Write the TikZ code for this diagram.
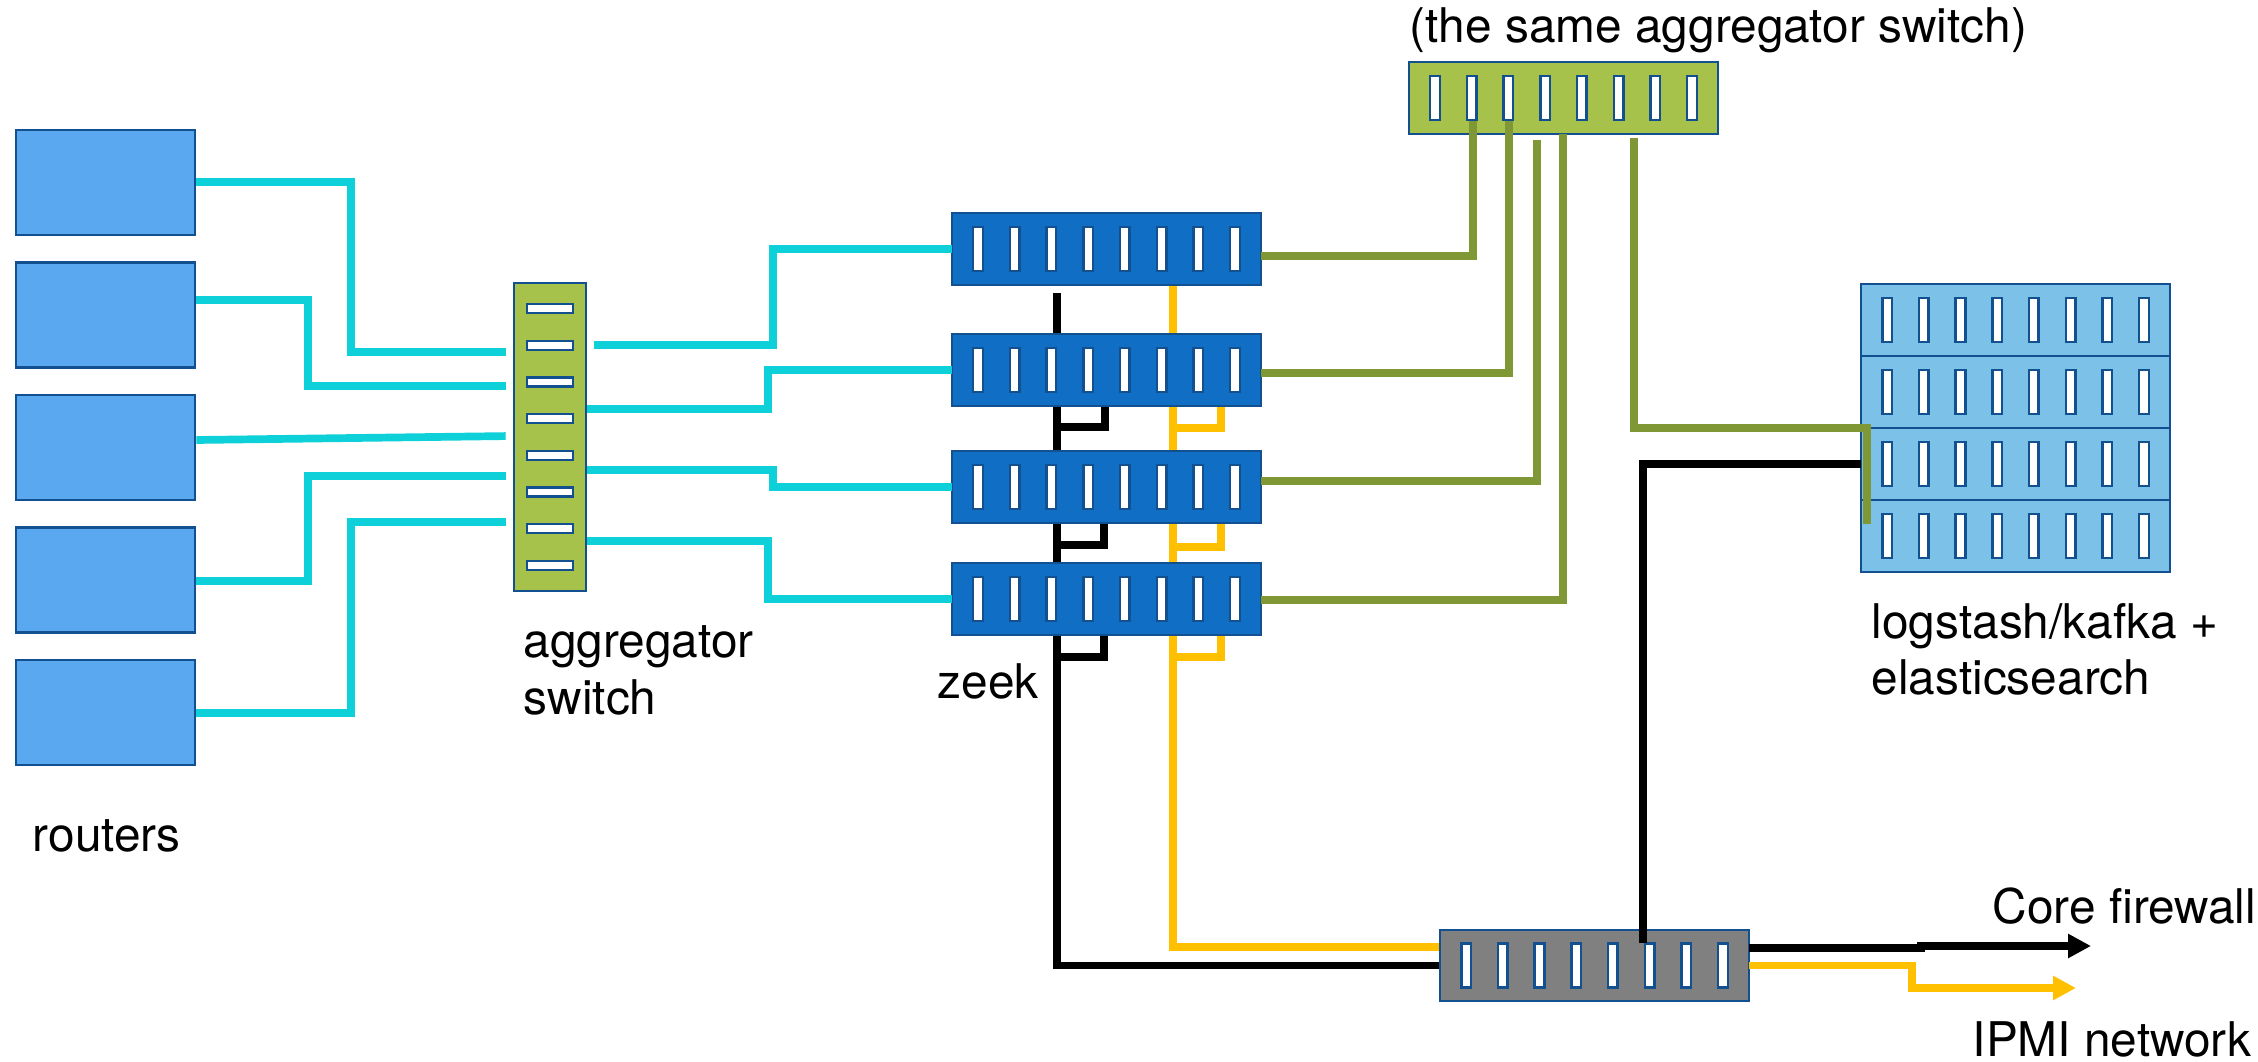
\documentclass[tikz,border=0pt]{standalone}
\usepackage{fontspec}
\setmainfont{TeX Gyre Heros}
\usetikzlibrary{arrows.meta,positioning,backgrounds}
\definecolor{edgeblue}{RGB}{18,80,143}
\definecolor{routerblue}{RGB}{90,169,240}
\definecolor{zeekblue}{RGB}{16,110,197}
\definecolor{lsblue}{RGB}{124,194,232}
\definecolor{aggreen}{RGB}{166,194,74}
\definecolor{wirecyan}{RGB}{14,208,216}
\definecolor{wireolive}{RGB}{127,151,52}
\definecolor{wireyellow}{RGB}{255,192,0}
\definecolor{exitgray}{RGB}{128,128,128}
\tikzset{
  slotrect/.style={draw=edgeblue,fill=white,line width=0.7pt},
  hports/.style={path picture={
    \foreach \k in {-3.5,-2.5,...,3.5}
      \draw[slotrect] ([xshift=\k*3.67mm]path picture bounding box.center)
        +(-0.48mm,-2.18mm) rectangle +(0.48mm,2.18mm);}},
  vports/.style={path picture={
    \foreach \k in {-3.5,-2.5,...,3.5}
      \draw[slotrect] ([yshift=\k*3.67mm]path picture bounding box.center)
        +(-2.3mm,-0.45mm) rectangle +(2.3mm,0.45mm);}},
  routernode/.style={rectangle,draw=edgeblue,line width=0.8pt,fill=routerblue,
    minimum width=17.9mm,minimum height=10.5mm,inner sep=0pt},
  racknode/.style={rectangle,draw=edgeblue,line width=0.8pt,minimum width=30.9mm,
    minimum height=7.2mm,inner sep=0pt,outer sep=0pt,hports},
  aggnode/.style={rectangle,draw=edgeblue,line width=0.8pt,fill=aggreen,
    minimum width=7.2mm,minimum height=30.8mm,inner sep=0pt,vports},
  labelnode/.style={anchor=base west,inner sep=0pt,align=left},
  wire/.style={line width=0.77mm},
  cyanwire/.style={wire,draw=wirecyan},
  olivewire/.style={wire,draw=wireolive},
  blackwire/.style={wire,draw=black},
  yellowwire/.style={wire,draw=wireyellow},
  outarrow/.style={-{Triangle[length=2.3mm,width=2.3mm]}}
}

\begin{document}
\begin{tikzpicture}[x=0.1mm,y=-0.1mm,font=\fontsize{13.6}{16}\selectfont]
  \useasboundingbox (0,0) rectangle (2258,1062);
  % routers and the aggregator
  \node[routernode] (router1) at (105.5,182.5) {};
  \node[routernode] (router2) at (105.5,315) {};
  \node[routernode] (router3) at (105.5,447.5) {};
  \node[routernode] (router4) at (105.5,580) {};
  \node[routernode] (router5) at (105.5,712.5) {};
  \node[aggnode] (aggsw) at (550,437) {};
  % zeek boxes
  \node[racknode,fill=zeekblue] (zeek1) at (1106.5,249) {};
  \node[racknode,fill=zeekblue] (zeek2) at (1106.5,370) {};
  \node[racknode,fill=zeekblue] (zeek3) at (1106.5,487) {};
  \node[racknode,fill=zeekblue] (zeek4) at (1106.5,599) {};
  \node[racknode,fill=aggreen] (aggtop) at (1563.5,98) {};
  % logstash/kafka + elasticsearch
  \node[racknode,fill=lsblue] (ls1) at (2015.5,320) {};
  \node[racknode,fill=lsblue,below=0pt of ls1] (ls2) {};
  \node[racknode,fill=lsblue,below=0pt of ls2] (ls3) {};
  \node[racknode,fill=lsblue,below=0pt of ls3] (ls4) {};
  \node[racknode,fill=exitgray,minimum height=7.1mm] (exitsw) at (1594.5,965.5) {};

  \coordinate (blkbus) at (1057,293);
  \coordinate (top2) at (1473,121);
  \coordinate (top3) at (1509,121);
  \coordinate (top4) at (1537,140);
  \coordinate (top5) at (1563,134);
  \coordinate (top7) at (1634,138);
  \coordinate (exitport) at (1643,943);
  \coordinate (corefw) at (2091,946);
  \coordinate (ipmi) at (2076,988);

  \begin{scope}[on background layer]
    \draw[blackwire] (blkbus) |- (exitsw.west);
    \draw[yellowwire] (1173,0 |- zeek1.south) |- ([yshift=1.85mm]exitsw.west);
    \draw[blackwire] (1105,0 |- zeek2.south) |- (1057,427);
    \draw[blackwire] (1104,0 |- zeek3.south) |- (1057,545);
    \draw[blackwire] (1104,0 |- zeek4.south) |- (1057,657);
    \draw[yellowwire] (1221,0 |- zeek2.south) |- (1173,428);
    \draw[yellowwire] (1221,0 |- zeek3.south) |- (1173,547);
    \draw[yellowwire] (1221,0 |- zeek4.south) |- (1173,657);
  \end{scope}

  \draw[cyanwire,shorten >=0.7mm] (router1.east |- 0,182) -| (351,352) -- (aggsw.west |- 0,352);
  \draw[cyanwire,shorten >=0.7mm] (router2.east |- 0,300) -| (308,386) -- (aggsw.west |- 0,386);
  \draw[cyanwire,shorten >=0.7mm] (router3.east |- 0,440) -- (aggsw.west |- 0,436);
  \draw[cyanwire,shorten >=0.7mm] (router4.east |- 0,581) -| (308,476) -- (aggsw.west |- 0,476);
  \draw[cyanwire,shorten >=0.7mm] (router5.east |- 0,713) -| (351,522) -- (aggsw.west |- 0,522);
  \draw[cyanwire,shorten <=0.7mm] (aggsw.east |- 0,345) -| (773,249) -- (zeek1.west);
  \draw[cyanwire] (aggsw.east |- 0,409) -| (768,370) -- (zeek2.west);
  \draw[cyanwire] (aggsw.east |- 0,470) -| (773,487) -- (zeek3.west);
  \draw[cyanwire] (aggsw.east |- 0,541) -| (768,599) -- (zeek4.west);

  \draw[olivewire] (top2) |- (zeek1.east |- 0,256);
  \draw[olivewire] (top3) |- (zeek2.east |- 0,373);
  \draw[olivewire] (top4) |- (zeek3.east |- 0,481);
  \draw[olivewire] (top5) |- (zeek4.east |- 0,600);
  \draw[olivewire] (top7) |- ([xshift=0.6mm]ls3.north west) -- ++(0,96);

  \draw[blackwire] (ls3.west) -| (exitport);
  \draw[blackwire,outarrow] ([yshift=1.75mm]exitsw.east) -- ++(172,0) |- (corefw);
  \draw[yellowwire,outarrow] (exitsw.east) -- ++(163,0) |- (ipmi);

  \node[labelnode] (lrouters) at (32,851) {routers};
  \node[labelnode] (laggsw) at (523,714) {aggregator\\switch};
  \node[labelnode] (lzeek) at (937,699) {zeek};
  \node[labelnode] (llogs) at (1871,695) {logstash/kafka +\\elasticsearch};
  \node[labelnode] (ltop) at (1409,43) {(the same aggregator switch)};
  \node[labelnode] (lcore) at (1992,923) {Core firewall};
  \node[labelnode] (lipmi) at (1972,1056) {IPMI network};
\end{tikzpicture}
\end{document}
